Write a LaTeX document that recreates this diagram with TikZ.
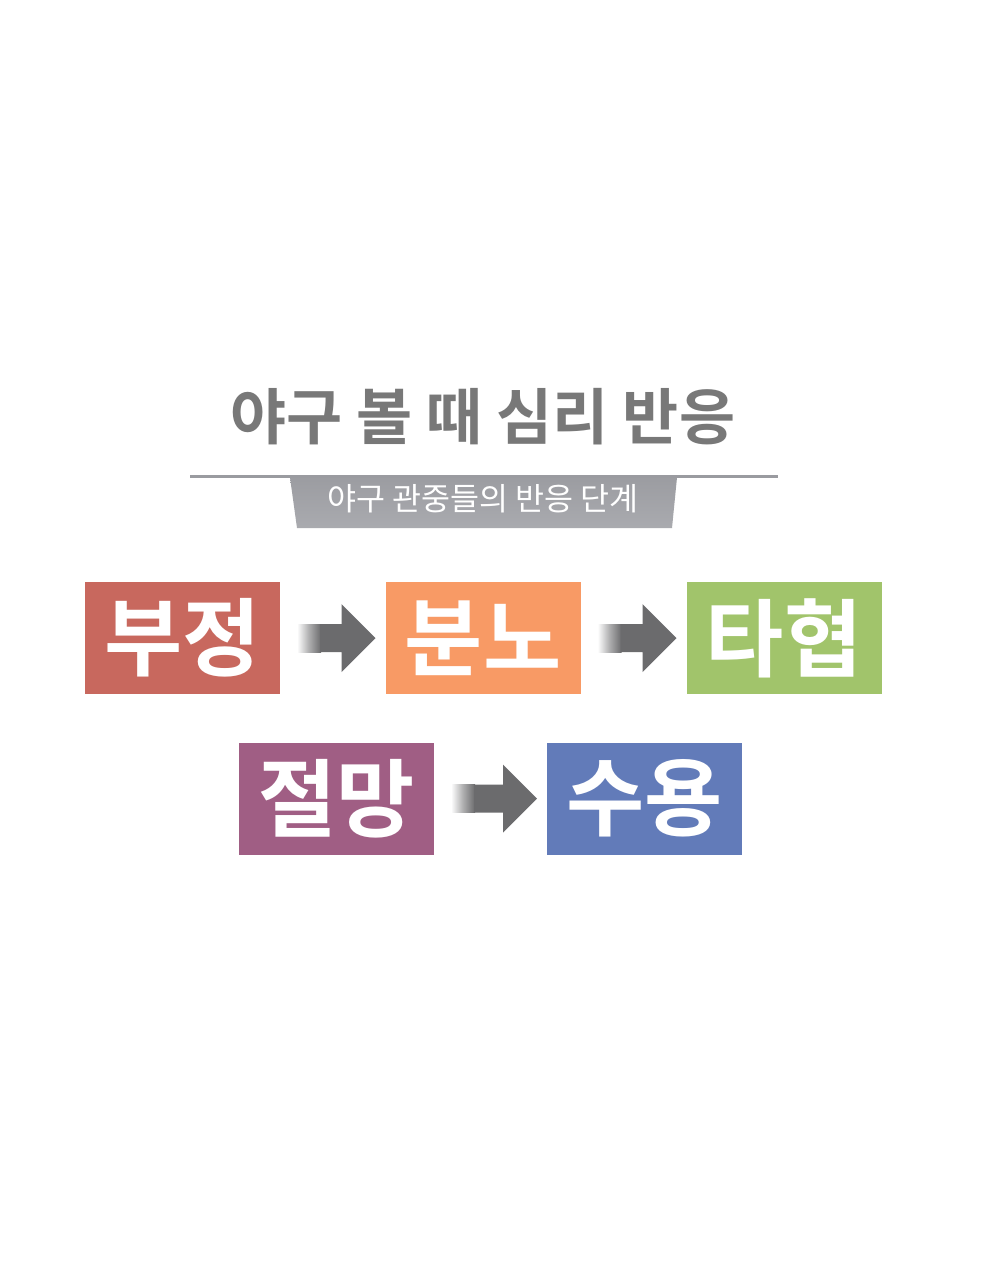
\documentclass[tikz,border=0pt]{standalone}
\usepackage{fontspec}
\usetikzlibrary{calc}
\newfontfamily\kr{Noto Sans CJK KR}
\newfontfamily\krb{Noto Sans CJK KR Bold}
\definecolor{cred}{HTML}{C8685E}
\definecolor{corange}{HTML}{F89A65}
\definecolor{cgreen}{HTML}{A1C46B}
\definecolor{cpurple}{HTML}{A05E84}
\definecolor{cblue}{HTML}{627BB9}
\definecolor{arrowgray}{HTML}{6B6B6D}
\definecolor{titlegray}{HTML}{787878}
\definecolor{bannergray}{HTML}{A2A3A8}
\tikzset{
  stage/.style={minimum width=195pt, minimum height=112pt, inner sep=0pt, outer sep=0pt,
    text=white, font=\krb\fontsize{85}{87}\selectfont},
}
\newcommand{\lowered}[1]{\raisebox{-3pt}{#1}}
\begin{document}
\begin{tikzpicture}[x=1pt,y=-1pt]
\useasboundingbox (0,0) rectangle (981,1280);
\fill[white] (0,0) rectangle (981,1280);

% title
\node[text=titlegray, font=\krb\fontsize{61}{63}\selectfont, inner sep=0pt] (title) at (483,417) {야구 볼 때 심리 반응};

% rule and banner
\coordinate (ruleL) at (190,476.5);
\coordinate (ruleR) at (778,476.5);
\draw[line width=2.2pt, draw=bannergray!95!black] (ruleL) -- (ruleR);
\shade[top color=bannergray!96!black, bottom color=bannergray!92!white]
  (290,477.5) -- (677,477.5) -- (672,528) -- (297,528) -- cycle;
\node[text=white, font=\kr\fontsize{31.5}{33}\selectfont, inner sep=0pt] (sub) at (483,499) {야구 관중들의 반응 단계};

% stage boxes
\node[stage, fill=cred]    (s1) at (182.5,638) {\lowered{부정}};
\node[stage, fill=corange] (s2) at (483,638)   {\lowered{분노}};
\node[stage, fill=cgreen]  (s3) at (784,638)   {\lowered{타협}};
\node[stage, fill=cpurple] (s4) at (336.5,798.5) {\lowered{절망}};
\node[stage, fill=cblue]   (s5) at (644.5,798.5) {\lowered{수용}};

% arrows: shaft with left fade + solid head
\foreach \a/\b in {s1/s2, s2/s3, s4/s5}{
  \path (\a.east) ++(17,0) coordinate (A0);
  \path (\b.west) ++(-10,0) coordinate (A1);
  \shade[left color=white, right color=arrowgray, middle color=arrowgray!55]
    ($(A0)+(0,-14)$) rectangle ($(A0)+(24,14)$);
  \fill[arrowgray] ($(A0)+(23,-14)$) -- ($(A1)+(-34,-14)$) -- ($(A1)+(-34,-34)$) -- (A1)
     -- ($(A1)+(-34,34)$) -- ($(A1)+(-34,14)$) -- ($(A0)+(23,14)$) -- cycle;
}
\end{tikzpicture}
\end{document}
